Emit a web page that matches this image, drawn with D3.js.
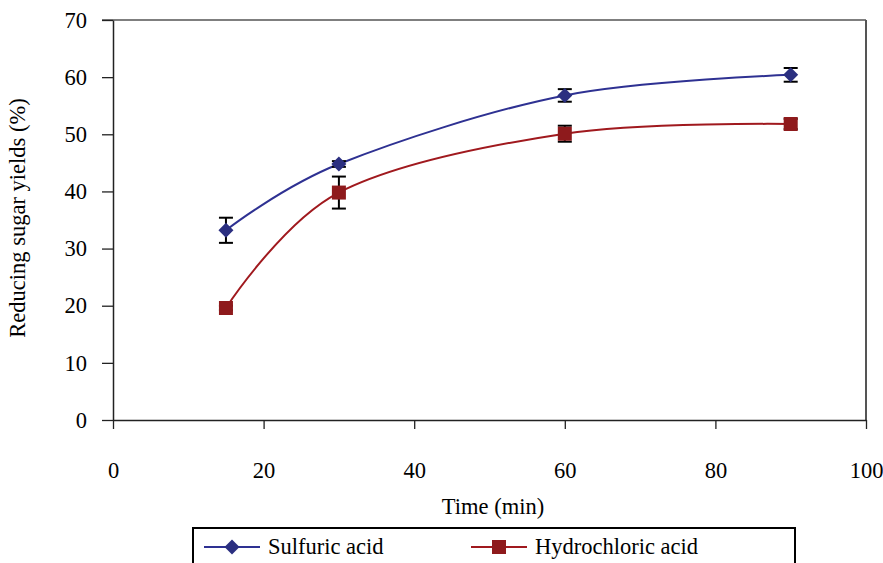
<!DOCTYPE html>
<html>
<head>
<meta charset="utf-8">
<script src="https://cdn.jsdelivr.net/npm/d3@7"></script>
<style>
  body { margin: 0; background: #fff; }
  svg text { font-family: "Times New Roman", "Liberation Serif", "DejaVu Serif", serif !important; }
</style>
</head>
<body>
<div id="chart"></div>
<script>
// Data
const times = [15, 30, 60, 90];
const sulfuric = [33.2, 44.8, 56.8, 60.4];
const sulfuricErr = [2.2, 0.5, 1.1, 1.2];
const hydrochloric = [19.6, 39.8, 50.1, 51.8];
const hydrochloricErr = [0.4, 2.8, 1.4, 0.9];
const xTicks = [0, 20, 40, 60, 80, 100];
const yTicks = [0, 10, 20, 30, 40, 50, 60, 70];

const width = 883, height = 563;
const plot = { left: 113, right: 866, top: 20, bottom: 420 };
const fontSize = 22.5;

const svg = d3.select("#chart").append("svg")
  .attr("width", width)
  .attr("height", height)
  .style("display", "block");

const x = d3.scaleLinear().domain([0, 100]).range([plot.left, plot.right]);
const y = d3.scaleLinear().domain([0, 70]).range([plot.bottom, plot.top]);

// plot frame (top and right, grey)
svg.append("line")
  .attr("x1", plot.left - 11).attr("x2", plot.right)
  .attr("y1", plot.top).attr("y2", plot.top)
  .attr("stroke", "#555").attr("stroke-width", 1.5);
svg.append("line")
  .attr("x1", plot.right).attr("x2", plot.right)
  .attr("y1", plot.top).attr("y2", plot.bottom)
  .attr("stroke", "#555").attr("stroke-width", 2);

// y axis
const yAxis = svg.append("g")
  .attr("transform", "translate(" + plot.left + ",0)")
  .call(d3.axisLeft(y).tickValues(yTicks).tickSize(11).tickPadding(15).tickSizeOuter(0));
yAxis.select(".domain").attr("stroke", "#222").attr("stroke-width", 1.5);
yAxis.selectAll(".tick line").attr("stroke", "#222").attr("stroke-width", 1.3);
yAxis.selectAll("text").attr("font-size", fontSize).attr("fill", "#000");

// x axis
const xAxis = svg.append("g")
  .attr("transform", "translate(0," + plot.bottom + ")")
  .call(d3.axisBottom(x).tickValues(xTicks).tickSize(9).tickPadding(33).tickSizeOuter(0));
xAxis.select(".domain").attr("stroke", "#222").attr("stroke-width", 1.5);
xAxis.selectAll(".tick line").attr("stroke", "#222").attr("stroke-width", 1.3);
xAxis.selectAll("text").attr("font-size", fontSize).attr("fill", "#000");

// axis labels
svg.append("text")
  .attr("x", 493).attr("y", 514)
  .attr("text-anchor", "middle")
  .attr("font-size", fontSize)
  .text("Time (min)");

svg.append("text")
  .attr("transform", "translate(25,218) rotate(-90)")
  .attr("text-anchor", "middle")
  .attr("font-size", fontSize)
  .text("Reducing sugar yields (%)");

const series = [
  { name: "Sulfuric acid", values: sulfuric, err: sulfuricErr, line: "#2E3192", fill: "#2B2F80", shape: "diamond" },
  { name: "Hydrochloric acid", values: hydrochloric, err: hydrochloricErr, line: "#A0191E", fill: "#8E1A1C", shape: "square" }
];

// Excel-style smoothing
const line = d3.line()
  .x(d => x(d[0]))
  .y(d => y(d[1]))
  .curve(d3.curveCardinal.tension(0));

function drawMarker(g, shape, cx, cy, color) {
  if (shape === "diamond") {
    g.append("path")
      .attr("d", `M${cx},${cy - 7.5}L${cx + 7.5},${cy}L${cx},${cy + 7.5}L${cx - 7.5},${cy}Z`)
      .attr("fill", color);
  } else {
    g.append("rect")
      .attr("x", cx - 7).attr("y", cy - 7)
      .attr("width", 14).attr("height", 14)
      .attr("fill", color);
  }
}

series.forEach(s => {
  const pts = times.map((t, i) => [t, s.values[i]]);
  svg.append("path")
    .datum(pts)
    .attr("d", line)
    .attr("fill", "none")
    .attr("stroke", s.line)
    .attr("stroke-width", 2);

  // error bars
  const eb = svg.append("g").attr("stroke", "#000").attr("stroke-width", 2);
  times.forEach((t, i) => {
    const cx = x(t), y0 = y(s.values[i] - s.err[i]), y1 = y(s.values[i] + s.err[i]);
    eb.append("line").attr("x1", cx).attr("x2", cx).attr("y1", y0).attr("y2", y1);
    eb.append("line").attr("x1", cx - 7).attr("x2", cx + 7).attr("y1", y0).attr("y2", y0);
    eb.append("line").attr("x1", cx - 7).attr("x2", cx + 7).attr("y1", y1).attr("y2", y1);
  });

  const mk = svg.append("g");
  times.forEach((t, i) => drawMarker(mk, s.shape, x(t), y(s.values[i]), s.fill));
});

// legend
const legend = svg.append("g");
legend.append("rect")
  .attr("x", 193).attr("y", 528)
  .attr("width", 602).attr("height", 60)
  .attr("fill", "none")
  .attr("stroke", "#000").attr("stroke-width", 2);

const legendX = [204, 471];
series.forEach((s, i) => {
  const lx = legendX[i], ly = 547;
  legend.append("line")
    .attr("x1", lx).attr("x2", lx + 56)
    .attr("y1", ly).attr("y2", ly)
    .attr("stroke", s.line).attr("stroke-width", 2);
  drawMarker(legend, s.shape, lx + 28, ly, s.fill);
  legend.append("text")
    .attr("x", lx + 64).attr("y", ly + 7)
    .attr("font-size", fontSize)
    .text(s.name);
});
</script>
</body>
</html>
